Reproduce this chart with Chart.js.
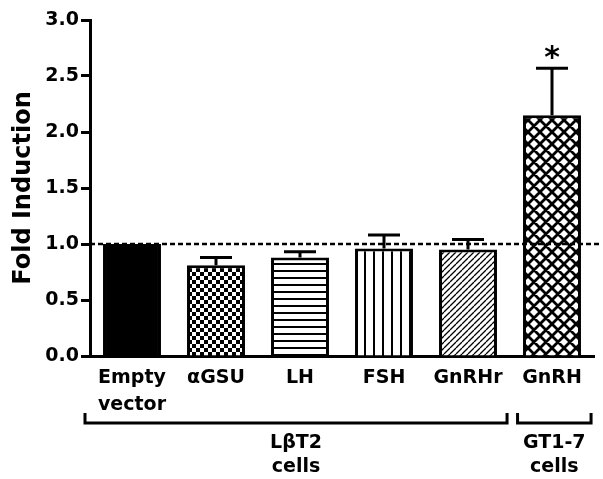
<!DOCTYPE html>
<html>
<head>
<meta charset="utf-8">
<script src="https://cdn.jsdelivr.net/npm/chart.js@4"></script>
<style>
  html, body { margin: 0; padding: 0; background: #fff; }
  #wrap { width: 603px; height: 479px; }
</style>
</head>
<body>
<div id="wrap"><canvas id="foldChart"></canvas></div>
<script>
// data
const categories = [['Empty', 'vector'], 'αGSU', 'LH', 'FSH', 'GnRHr', 'GnRH'];
const foldInduction = [1.0, 0.81, 0.88, 0.96, 0.95, 2.15];
const errorUpper = [0, 0.07, 0.05, 0.12, 0.09, 0.42];
const significance = ['', '', '', '', '', '*'];
const fillKinds = ['solid', 'checker', 'hlines', 'vlines', 'diagonal', 'crosshatch'];
const yTicks = [0, 0.5, 1.0, 1.5, 2.0, 2.5, 3.0];
const cellGroups = [
  { label: ['LβT2', 'cells'], from: 0, to: 4 },
  { label: ['GT1-7', 'cells'], from: 5, to: 5 }
];
const referenceLevel = 1.0;
const yTitle = 'Fold Induction';

const FONT = '"DejaVu Sans", sans-serif';

// small canvas tiles for the hatched bar fills
function makeFill(kind) {
  if (kind === 'solid') return '#000';
  const sizes = { checker: 8, hlines: 7, vlines: 9, diagonal: 6, crosshatch: 12 };
  const s = sizes[kind];
  const c = document.createElement('canvas');
  c.width = s; c.height = s;
  const g = c.getContext('2d');
  g.fillStyle = '#fff';
  g.fillRect(0, 0, s, s);
  g.fillStyle = '#000';
  g.strokeStyle = '#000';
  if (kind === 'checker') {
    g.fillRect(0, 0, 4, 4);
    g.fillRect(4, 4, 4, 4);
  } else if (kind === 'hlines') {
    g.fillRect(0, 4, s, 2);
  } else if (kind === 'vlines') {
    g.fillRect(4, 0, 2, s);
  } else {
    g.lineWidth = kind === 'diagonal' ? 1.3 : 2.8;
    g.beginPath();
    for (const d of [-s, 0, s]) {
      g.moveTo(d, s); g.lineTo(d + s, 0);
      if (kind === 'crosshatch') { g.moveTo(d, 0); g.lineTo(d + s, s); }
    }
    g.stroke();
  }
  return g.createPattern(c, 'repeat');
}

const overlayPlugin = {
  id: 'overlay',
  afterDatasetsDraw(chart) {
    const { ctx, chartArea, scales: { y } } = chart;
    const bars = chart.getDatasetMeta(0).data;
    ctx.save();
    ctx.strokeStyle = '#000';
    ctx.fillStyle = '#000';

    // dashed reference line at 1.0
    const yRef = y.getPixelForValue(referenceLevel);
    ctx.lineWidth = 2.7;
    ctx.setLineDash([5, 3]);
    ctx.beginPath();
    ctx.moveTo(chartArea.left, yRef);
    ctx.lineTo(chart.width - 4, yRef);
    ctx.stroke();
    ctx.setLineDash([]);

    // upper error bars + significance mark
    ctx.lineWidth = 3;
    bars.forEach((bar, i) => {
      if (!errorUpper[i]) return;
      const top = y.getPixelForValue(foldInduction[i] + errorUpper[i]);
      ctx.beginPath();
      ctx.moveTo(bar.x, bar.y);
      ctx.lineTo(bar.x, top);
      ctx.moveTo(bar.x - 16, top);
      ctx.lineTo(bar.x + 16, top);
      ctx.stroke();
      if (significance[i]) {
        ctx.font = 'bold 30px ' + FONT;
        ctx.textAlign = 'center';
        ctx.textBaseline = 'alphabetic';
        ctx.fillText(significance[i], bar.x, top - 1);
      }
    });
    ctx.restore();
  },
  afterDraw(chart) {
    const { ctx, chartArea, scales: { x } } = chart;
    ctx.save();
    ctx.fillStyle = '#000';
    ctx.strokeStyle = '#000';

    // y axis title
    ctx.save();
    ctx.translate(30, (chartArea.top + chartArea.bottom) / 2);
    ctx.rotate(-Math.PI / 2);
    ctx.font = 'bold 24px ' + FONT;
    ctx.textAlign = 'center';
    ctx.textBaseline = 'alphabetic';
    ctx.fillText(yTitle, 0, 0);
    ctx.restore();

    // cell-line brackets under the categories
    const half = (x.getPixelForValue(1) - x.getPixelForValue(0)) / 2;
    const yLine = chartArea.bottom + 67;
    ctx.lineWidth = 3;
    ctx.font = 'bold 19px ' + FONT;
    ctx.textAlign = 'center';
    ctx.textBaseline = 'alphabetic';
    cellGroups.forEach(g => {
      const left = g.from === 0 ? chartArea.left - 5 : x.getPixelForValue(g.from) - half * 0.82;
      const right = x.getPixelForValue(g.to) + half * 0.93;
      ctx.beginPath();
      ctx.moveTo(left, yLine - 10);
      ctx.lineTo(left, yLine);
      ctx.lineTo(right, yLine);
      ctx.lineTo(right, yLine - 10);
      ctx.stroke();
      const mid = (left + right) / 2;
      g.label.forEach((line, k) => {
        ctx.fillText(line, mid, yLine + 25 + k * 24);
      });
    });
    ctx.restore();
  }
};

const ctx = document.getElementById('foldChart').getContext('2d');
const foldChart = new Chart(ctx, {
  type: 'bar',
  data: {
    labels: categories,
    datasets: [{
      data: foldInduction,
      backgroundColor: fillKinds.map(makeFill),
      borderColor: '#000',
      borderWidth: 3,
      barPercentage: 0.69,
      categoryPercentage: 1.0
    }]
  },
  options: {
    responsive: true,
    maintainAspectRatio: false,
    animation: false,
    layout: { padding: { left: 0, right: 9, top: 20, bottom: 0 } },
    plugins: {
      legend: { display: false },
      tooltip: { enabled: false }
    },
    scales: {
      x: {
        grid: { display: false },
        border: { display: true, color: '#000', width: 3 },
        ticks: {
          color: '#000',
          padding: 1,
          maxRotation: 0,
          autoSkip: false,
          font: { family: FONT, size: 19, weight: 'bold', lineHeight: 1.42 }
        },
        afterFit: scale => { scale.height = 123; }
      },
      y: {
        min: 0,
        max: 3,
        afterBuildTicks: scale => { scale.ticks = yTicks.map(v => ({ value: v })); },
        grid: {
          display: true,
          drawOnChartArea: false,
          drawTicks: true,
          tickLength: 9,
          tickWidth: 3,
          tickColor: '#000'
        },
        border: { display: true, color: '#000', width: 3 },
        ticks: {
          color: '#000',
          padding: 2,
          callback: v => Number(v).toFixed(1),
          font: { family: FONT, size: 19, weight: 'bold' }
        },
        afterFit: scale => { scale.width = 90; }
      }
    }
  },
  plugins: [overlayPlugin]
});
</script>
</body>
</html>
